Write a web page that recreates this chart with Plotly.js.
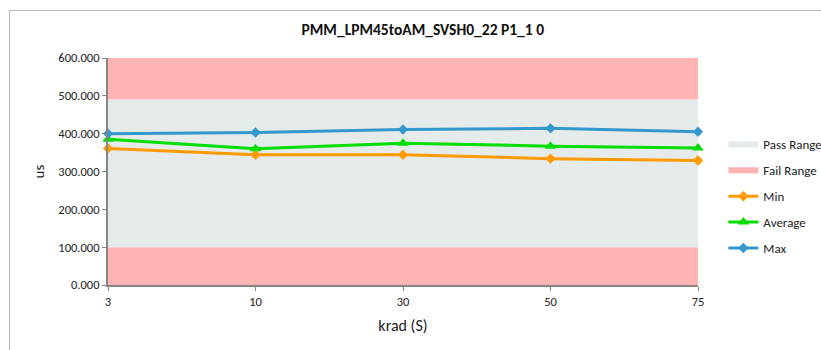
<!DOCTYPE html>
<html><head><meta charset="utf-8">
<script src="https://cdn.plot.ly/plotly-3.0.1.min.js"></script>
<style>
html,body{margin:0;padding:0;background:#fff;}
#frame{position:absolute;left:9px;top:10px;width:900px;height:400px;border:1px solid #b8b8b8;}
#chart{position:absolute;left:0;top:0;width:821px;height:350px;}
</style></head>
<body><div id="frame"></div><div id="chart"></div>
<script>
const categories = ['3','10','30','50','75'];
const failLow = [100,100,100,100,100];
const passHigh = [490,490,490,490,490];
const failHigh = [600,600,600,600,600];
const minVals = [361,344,344,334,329];
const avgVals = [385,360,375,367,362];
const maxVals = [400,403,411,414,405];

const FONT = "Carlito, 'Liberation Sans Narrow', 'Liberation Sans', sans-serif";
const traces = [
  {x:categories,y:failLow,type:'scatter',mode:'none',fill:'tozeroy',fillcolor:'#FFB3B3',name:'Fail Range',showlegend:false,hoverinfo:'skip'},
  {x:categories,y:passHigh,type:'scatter',mode:'none',fill:'tonexty',fillcolor:'#E5EAEA',name:'Pass Range',legendrank:1,legendgroup:'a'},
  {x:categories,y:failHigh,type:'scatter',mode:'none',fill:'tonexty',fillcolor:'#FFB3B3',name:'Fail Range',legendrank:2,legendgroup:'b'},
  {x:categories,y:minVals,type:'scatter',mode:'lines+markers',name:'Min',line:{color:'#FF9A00',width:3},marker:{symbol:'diamond',size:8,color:'#FF9A00'},cliponaxis:false,legendrank:3,legendgroup:'c'},
  {x:categories,y:avgVals,type:'scatter',mode:'lines+markers',name:'Average',line:{color:'#00DD00',width:3},marker:{symbol:'triangle-up',size:10,color:'#00DD00'},cliponaxis:false,legendrank:4,legendgroup:'d'},
  {x:categories,y:maxVals,type:'scatter',mode:'lines+markers',name:'Max',line:{color:'#3399CC',width:3},marker:{symbol:'diamond',size:8,color:'#3399CC'},cliponaxis:false,legendrank:5,legendgroup:'e'}
];
const layout = {
  width:821,height:350,
  paper_bgcolor:'rgba(0,0,0,0)',plot_bgcolor:'rgba(0,0,0,0)',
  margin:{l:108,r:123,t:58,b:65,autoexpand:false},
  font:{family:FONT,size:12.5,color:'#222'},
  title:{text:'<b>PMM_LPM45toAM_SVSH0_22 P1_1 0</b>',x:0.515,xanchor:'center',y:0.915,yanchor:'middle',font:{family:FONT,size:15.5,color:'#111'}},
  xaxis:{type:'category',range:[0,4],showgrid:false,zeroline:false,showline:true,linecolor:'#868686',linewidth:2,
    ticks:'outside',ticklen:4,tickcolor:'#868686',tickfont:{size:12.5},
    title:{text:'krad (S)',font:{size:16},standoff:12}},
  yaxis:{range:[0,600],dtick:100,tickformat:'.3f',showgrid:false,zeroline:false,showline:true,linecolor:'#868686',linewidth:2,
    ticks:'outside',ticklen:4,tickcolor:'#868686',tickfont:{size:12.5},
    title:{text:'us',font:{size:15},standoff:10}},
  legend:{x:1.043,y:0.39,yanchor:'middle',xanchor:'left',traceorder:'grouped',font:{size:13},itemwidth:30,tracegroupgap:6,bgcolor:'rgba(0,0,0,0)'},
  showlegend:true
};
Plotly.newPlot('chart',traces,layout,{displayModeBar:false,staticPlot:true});
</script></body></html>
